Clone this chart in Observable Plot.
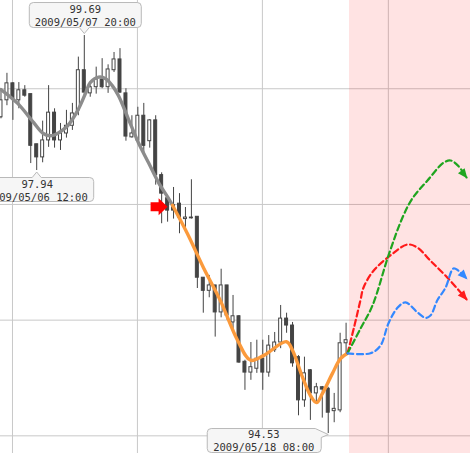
<!DOCTYPE html>
<html><head><meta charset="utf-8">
<script src="https://cdn.jsdelivr.net/npm/d3@7"></script>
<script src="https://cdn.jsdelivr.net/npm/@observablehq/plot@0.6"></script>
<style>html,body{margin:0;padding:0;background:#fff;overflow:hidden}</style>
</head><body><div id="chart"></div>
<script>
// ---- candles (4-hour bars, x = bar index) ----
const candleOpen  = [98.63,98.85,99.07,98.85,98.98,98.93,98.28,98.11,98.33,98.69,98.33,98.42,98.52,98.72,99.24,98.94,99.02,99.12,99.02,99.24,99.38,98.94,98.37,98.33,98.65,98.32,98.59,97.88,97.58,97.49,97.51,97.31,97.33,97.34,96.55,96.38,96.45,96.10,96.45,95.97,96.05,95.46,95.32,95.37,95.50,95.32,95.61,95.71,96.02,95.93,95.52,94.96,95.35,95.05,95.13,95.11,94.82,94.83,95.70];
const candleHigh  = [99.00,99.20,99.08,99.08,99.04,98.93,98.28,98.58,99.04,98.74,98.55,98.72,98.81,99.41,99.69,99.04,99.28,99.39,99.31,99.47,99.52,99.00,98.65,98.76,98.81,98.60,98.65,97.91,97.59,97.72,97.64,97.46,97.82,97.34,96.55,96.58,96.45,96.66,96.45,96.32,96.06,95.48,95.71,95.74,95.74,95.80,95.84,96.19,96.09,95.97,95.54,95.52,95.36,95.18,95.14,95.13,95.05,95.83,95.96];
const candleLow   = [98.61,98.78,98.59,98.74,98.89,98.03,97.94,98.04,98.24,98.23,98.20,98.36,98.46,98.65,98.91,98.89,98.93,99.00,98.94,99.21,98.94,98.32,98.36,98.29,98.17,98.23,97.75,97.25,97.27,97.31,97.12,97.19,97.31,96.41,96.09,96.29,95.78,96.03,96.00,95.87,95.44,95.09,95.22,95.31,95.09,95.26,95.58,95.63,95.83,95.39,94.76,94.87,94.70,94.93,94.73,94.53,94.67,94.80,95.54];
const candleClose = [98.85,99.07,98.87,98.98,98.91,98.26,98.11,98.33,98.69,98.33,98.42,98.52,98.68,99.24,98.95,99.02,99.12,99.02,99.25,99.38,98.95,98.38,98.42,98.65,98.26,98.59,97.88,97.64,97.42,97.42,97.33,97.33,97.32,96.55,96.38,96.45,96.10,96.45,96.06,96.05,95.45,95.32,95.39,95.50,95.32,95.67,95.71,96.02,95.93,95.44,94.96,95.31,95.05,95.13,95.10,94.80,94.85,95.70,95.74];

// ---- smoothed trend line (gray before signal, orange after) ----
const trendPastIdx    = [0,2.8,5.5,7.1,8.3,9.7,11.2,12.9,14.2,15.0,16.4,17.6,18.7,19.75,21.4,23.1,24.8,26.5,28.15,28.82];
const trendPastPrice  = [98.99,98.81,98.56,98.42,98.39,98.43,98.52,98.72,98.94,99.08,99.15,99.13,99.04,98.91,98.61,98.30,98.04,97.78,97.58,97.49];
const trendSignalIdx   = [28.82,31.34,34.03,36.89,39.75,41.93,44.12,47.98,48.99,50.67,52.02,53.03,54.03,55.71,57.06,58.24];
const trendSignalPrice = [97.49,97.12,96.68,96.25,95.74,95.48,95.54,95.72,95.61,95.26,95.02,94.93,95.05,95.31,95.50,95.57];

// ---- forecasts ----
const redIdx     = [58.24,59.41,60.42,60.92,62.61,65.46,68.32,70.0,72.18,75.04,78.24];
const redPrice   = [95.57,95.93,96.26,96.42,96.64,96.84,96.98,96.94,96.77,96.55,96.27];
const greenIdx   = [58.24,60.42,62.44,65.13,67.48,69.16,71.68,74.37,75.55,76.72,78.24];
const greenPrice = [95.57,95.89,96.19,96.84,97.33,97.58,97.81,98.04,98.07,98.01,97.85];
const blueIdx    = [58.24,62.1,63.78,65.13,66.64,67.98,70.0,71.34,72.18,73.36,74.71,76.05,76.89,78.24];
const bluePrice  = [95.57,95.57,95.67,95.96,96.16,96.23,96.10,96.03,96.06,96.26,96.42,96.67,96.64,96.54];
const arrowTailIdx   = [77.46,77.53,77.39];
const arrowTailPrice = [96.34,97.92,96.61];
const forecastColors = ["#ff1a1a","#1fa51f","#3388ff"];
const forecastStart = 58.57;

// ---- annotations ----
const calloutIndex = [14, 6, 55];
const calloutPrices = [99.69, 97.94, 94.53];
const calloutDates = ["2009/05/07 20:00", "2009/05/06 12:00", "2009/05/18 08:00"];
const signal = {i: 28, price: 97.47};

// ---- scales / grid ----
const W = 470, H = 453;
const xDomain = [-0.084, 78.91];
const yDomain = [94.271, 100.144];
const gridX = [1.93, 22.93, 43.93, 65.1];
const gridY = [94.5, 96, 97.5, 99];

const candles = candleOpen.map((o, i) => ({i, open: o, high: candleHigh[i], low: candleLow[i], close: candleClose[i]}));
const pts = (xs, ys) => xs.map((x, k) => ({i: x, price: ys[k]}));
const forecasts = [pts(redIdx, redPrice), pts(greenIdx, greenPrice), pts(blueIdx, bluePrice)];
const callouts = calloutIndex.map((i, k) => ({i, price: calloutPrices[k], label: calloutPrices[k].toFixed(2) + "\n" + calloutDates[k]}));

// arrowhead direction measured through Plot's own scales
const sx = Plot.scale({x: {domain: xDomain, range: [0, W]}});
const sy = Plot.scale({y: {domain: yDomain, range: [H, 0]}});
const heads = forecasts.map((f, k) => {
  const tip = f[f.length - 1];
  const a = Math.atan2(sy.apply(tip.price) - sy.apply(arrowTailPrice[k]), sx.apply(tip.i) - sx.apply(arrowTailIdx[k]));
  const L = 8.5, w = 4.2, ca = Math.cos(a), sa = Math.sin(a);
  return {
    d: tip,
    c: forecastColors[k],
    shape: {draw(c) {
      c.moveTo(1.5 * ca, 1.5 * sa);
      c.lineTo(-L * ca + w * sa, -L * sa - w * ca);
      c.lineTo(-L * ca - w * sa, -L * sa + w * ca);
      c.closePath();
    }}
  };
});

// callout shapes (drawn relative to the annotated point)
const shapeAbove = {draw(c) {
  const L=-55,R=57,T=-33,B=-8,r=4;
  c.moveTo(L+r,T); c.lineTo(R-r,T); c.arcTo(R,T,R,T+r,r); c.lineTo(R,B-r); c.arcTo(R,B,R-r,B,r);
  c.lineTo(5,B); c.lineTo(0,-2); c.lineTo(-5,B);
  c.lineTo(L+r,B); c.arcTo(L,B,L,B-r,r); c.lineTo(L,T+r); c.arcTo(L,T,L+r,T,r); c.closePath();
}};
const shapeBelow = {draw(c) {
  const L=-57,R=57,T=7,B=31,r=4;
  c.moveTo(L+r,T); c.lineTo(-4.5,T); c.lineTo(0,1.5); c.lineTo(4.5,T);
  c.lineTo(R-r,T); c.arcTo(R,T,R,T+r,r); c.lineTo(R,B-r); c.arcTo(R,B,R-r,B,r);
  c.lineTo(L+r,B); c.arcTo(L,B,L,B-r,r); c.lineTo(L,T+r); c.arcTo(L,T,L+r,T,r); c.closePath();
}};
const shapeLeft = {draw(c) {
  const L=-121,R=-7,T=-5,B=19,r=4;
  c.moveTo(L+r,T); c.lineTo(-13,T); c.lineTo(0,1); c.lineTo(R,T+9);
  c.lineTo(R,B-r); c.arcTo(R,B,R-r,B,r); c.lineTo(L+r,B); c.arcTo(L,B,L,B-r,r);
  c.lineTo(L,T+r); c.arcTo(L,T,L+r,T,r); c.closePath();
}};
const signalArrow = {draw(c) {
  c.moveTo(-17,-4.5); c.lineTo(-9,-4.5); c.lineTo(-9,-8.5); c.lineTo(0,0);
  c.lineTo(-9,8.5); c.lineTo(-9,4.5); c.lineTo(-17,4.5); c.closePath();
}};
const shapes = [shapeAbove, shapeBelow, shapeLeft];
const labelOffsets = [[1,-20.5],[0.5,19.7],[-64.5,7]];

const font = "DejaVu Sans Mono";
const marks = [
  Plot.ruleY(gridY, {stroke: "#c8c8c8", strokeWidth: 1}),
  Plot.ruleX(gridX, {stroke: "#c8c8c8", strokeWidth: 1}),
  Plot.rect([0], {x1: forecastStart, x2: xDomain[1] + 1, y1: yDomain[0] - 1, y2: yDomain[1] + 1, fill: "#ff0000", fillOpacity: 0.11}),
  Plot.ruleX(candles, {x: "i", y1: "low", y2: "high", stroke: "#444", strokeWidth: 1}),
  Plot.rect(candles.filter(d => d.close < d.open), {x1: d => d.i - 0.25, x2: d => d.i + 0.25, y1: "open", y2: "close", fill: "#444", stroke: "#444", strokeWidth: 1}),
  Plot.rect(candles.filter(d => d.close >= d.open), {x1: d => d.i - 0.25, x2: d => d.i + 0.25, y1: "open", y2: "close", fill: "#fff", stroke: "#444", strokeWidth: 1}),
  Plot.line(pts(trendPastIdx, trendPastPrice), {x: "i", y: "price", curve: "catmull-rom", stroke: "#8c8c8c", strokeWidth: 3.4}),
  Plot.line(pts(trendSignalIdx, trendSignalPrice), {x: "i", y: "price", curve: "catmull-rom", stroke: "#fb9a3c", strokeWidth: 3.4}),
  ...forecasts.map((f, k) => Plot.line(f, {x: "i", y: "price", curve: "catmull-rom", stroke: forecastColors[k], strokeWidth: 2.2, strokeDasharray: "6,3.5"})),
  ...heads.map(h => Plot.dot([h.d], {x: "i", y: "price", symbol: h.shape, r: 5, fill: h.c, stroke: "none"})),
  Plot.dot([signal], {x: "i", y: "price", symbol: signalArrow, r: 5, fill: "#ff0000", stroke: "none"}),
  ...callouts.map((d, k) => Plot.dot([d], {x: "i", y: "price", symbol: shapes[k], r: 5, fill: "#f6f6f6", stroke: "#b9b9b9", strokeWidth: 1})),
  ...callouts.map((d, k) => Plot.text([d], {x: "i", y: "price", text: "label", dx: labelOffsets[k][0], dy: labelOffsets[k][1], fontFamily: font, fontSize: 10.5, lineHeight: 1.22, fill: "#333", textAnchor: "middle"}))
];

const plot = Plot.plot({
  width: W, height: H,
  marginTop: 0, marginRight: 0, marginBottom: 0, marginLeft: 0,
  x: {domain: xDomain, axis: null},
  y: {domain: yDomain, axis: null},
  style: {background: "#fff"},
  marks
});
document.getElementById("chart").append(plot);
</script>
</body></html>
